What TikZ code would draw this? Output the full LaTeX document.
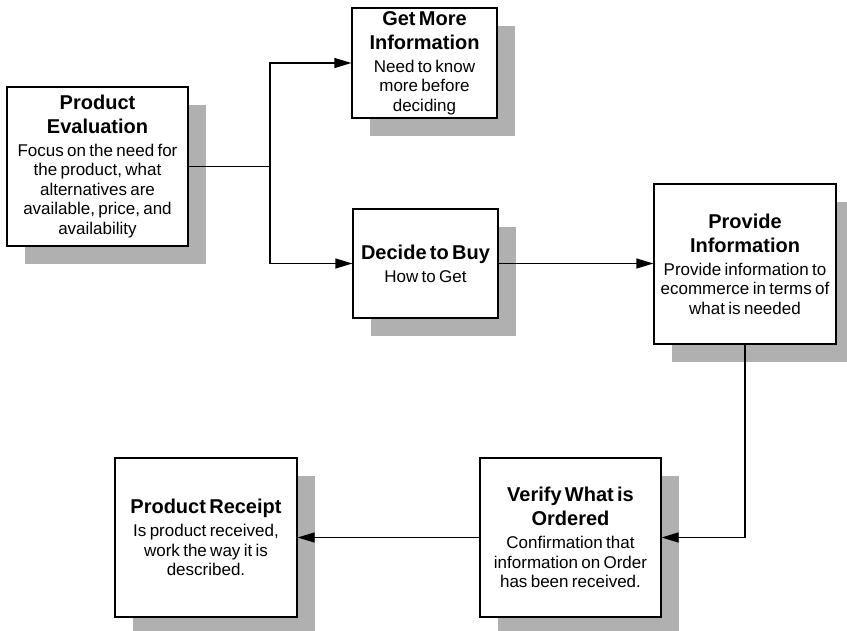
\documentclass[tikz,border=0pt]{standalone}
\usepackage{fontspec}
\setmainfont{Liberation Sans}
\usetikzlibrary{arrows.meta,shadows}
\definecolor{shadowgray}{gray}{0.69}
\newcommand{\ttl}{\fontsize{20}{24}\selectfont\bfseries}
\newcommand{\bdy}{\vspace{3.5pt}\fontsize{17}{19.5}\selectfont}
\begin{document}
\begin{tikzpicture}[x=1pt,y=-1pt,
  boxnode/.style={draw=black, line width=1.2pt, fill=white, align=center, inner sep=0pt,
    general shadow={fill=shadowgray, draw=none, shadow xshift=18pt, shadow yshift=-18pt}},
  widebox/.style={boxnode, minimum width=181pt, minimum height=159pt, text width=178pt},
  narrowbox/.style={boxnode, minimum width=145pt, minimum height=110pt, text width=143pt},
  conn/.style={line width=1.2pt},
  arr/.style={line width=1.2pt, -{Triangle[length=17pt,width=10pt]}}]
\useasboundingbox (0,0) rectangle (847,631);
\node[widebox] (pe) at (97.5,166.5)
  {{\ttl Product\\Evaluation\par}\bdy Focus on the need for\\the product, what\\alternatives are\\available, price, and\\availability\par};
\node[narrowbox] (gm) at (424.5,63)
  {{\ttl Get More\\Information\par}\bdy Need to know\\more before\\deciding\par};
\node[narrowbox, minimum height=109pt] (db) at (425.5,263.5)
  {{\ttl Decide to Buy\par}\bdy How to Get\par};
\node[widebox, minimum width=182pt, minimum height=160pt] (pi) at (745,264)
  {{\ttl Provide\\Information\par}\bdy Provide information to\\ecommerce in terms of\\what is needed\par};
\node[widebox] (vo) at (570.5,537.5)
  {{\ttl Verify What is\\Ordered\par}\bdy Confirmation that\\information on Order\\has been received.\par};
\node[widebox, minimum width=182pt] (pr) at (206,537.5)
  {{\ttl Product Receipt\par}\bdy Is product received,\\work the way it is\\described.\par};
\coordinate (j) at (270,166.5);
\draw[conn] (pe.east) -- (j);
\draw[arr] (j) |- (gm.west);
\draw[arr] (j) |- (db.west);
\draw[arr] (db.east) -- (db.east -| pi.west);
\draw[arr] (pi.south) |- (vo.east);
\draw[arr] (vo.west) -- (pr.east);
\end{tikzpicture}
\end{document}
